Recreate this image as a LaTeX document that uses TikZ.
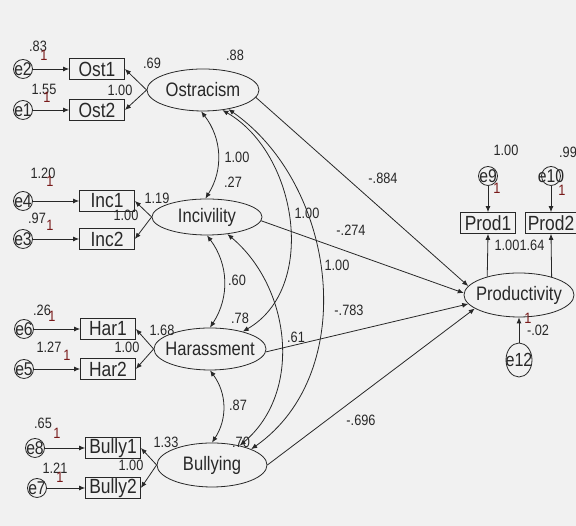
\documentclass[tikz,border=0pt]{standalone}
\usepackage{fontspec}
\setmainfont{Liberation Sans}[FakeStretch=0.85]
\usepackage{xcolor}
\usetikzlibrary{arrows.meta,shapes.geometric}
\definecolor{bgcol}{RGB}{241,241,241}
\definecolor{linecol}{RGB}{40,40,40}
\definecolor{fixcol}{RGB}{120,25,25}
\tikzset{
    every node/.style={font=\fontsize{15}{17}\selectfont, text=linecol},
    latent/.style={ellipse, draw=linecol, line width=0.8pt, minimum width=112pt, minimum height=42pt, inner sep=0pt,
        label={[font=\fontsize{19.5}{21}\selectfont]center:#1}},
    observed/.style={rectangle, draw=linecol, line width=0.8pt, minimum width=55pt, minimum height=21pt, inner sep=1pt,
        font=\fontsize{20.5}{22}\selectfont},
    errterm/.style={circle, draw=linecol, line width=0.8pt, minimum size=19pt, inner sep=0pt,
        label={[font=\fontsize{18.5}{20}\selectfont]center:#1}},
    est/.style={inner sep=0pt},
    fixed/.style={inner sep=0pt, text=fixcol}
}

\begin{document}
\begin{tikzpicture}[x=1pt,y=1pt,line width=0.8pt,color=linecol,>={Latex[length=6pt,width=5pt]}]
                % Background
                \fill[bgcol] (0,0) rectangle (576,526);
                \useasboundingbox (0,0) rectangle (576,526);

                % Draw latent variables
                \node[latent=Ostracism] (Ostracism) at (203,436) {};
                \node[latent=Incivility, minimum width=110pt, minimum height=36pt] (Incivility) at (207,309) {};
                \node[latent=Harassment] (Harassment) at (210,177) {};
                \node[latent=Bullying, minimum width=110pt, minimum height=44pt] (Bullying) at (212,61) {};
                \node[latent=Productivity, minimum width=110pt, minimum height=44pt] (Productivity) at (519,231) {};

                % Draw observed variables
                \foreach \n/\x/\y in {Ost1/97/457, Ost2/97/416, Inc1/107/325, Inc2/107/287,
                                      Har1/108/197, Har2/108/157, Bully1/113/78, Bully2/113/38, Prod1/488/303} {
                    \node[observed] (\n) at (\x,\y) {\n};
                }
                \node[observed, minimum width=51pt] (Prod2) at (551,303) {Prod2};

                % Draw error terms
                \foreach \n/\x/\y in {e2/23/457, e1/23/416, e4/23/325, e3/23/287, e6/24/197,
                                      e5/24/157, e8/35/78, e7/37/38, e9/488/350, e10/551/350} {
                    \node[errterm=\n] (\n) at (\x,\y) {};
                }
                \node[ellipse, draw=linecol, minimum width=26pt, minimum height=34pt, inner sep=0pt,
                      label={[font=\fontsize{19}{20}\selectfont]center:e12}] (e12) at (519,166) {};

                % Draw loadings and error paths
                \foreach \a/\b in {Ostracism/Ost1, Ostracism/Ost2, Incivility/Inc1, Incivility/Inc2,
                                   Harassment/Har1, Harassment/Har2, Bullying/Bully1, Bullying/Bully2} {
                    \draw[->] (\a.west) -- (\b.east);
                }
                \foreach \a/\b in {e2/Ost1, e1/Ost2, e4/Inc1, e3/Inc2, e6/Har1, e5/Har2,
                                   e8/Bully1, e7/Bully2, e9/Prod1, e10/Prod2, e12/Productivity} {
                    \draw[->] (\a) -- (\b);
                }
                \draw[->] (Productivity.150) -- (Prod1.south);
                \draw[->] (Productivity.29) -- (Prod2.south);

                % Draw structural paths
                \foreach \a/\b in {Ostracism.352/Productivity.170, Incivility.356/Productivity.178,
                                   Harassment.357/Productivity.190, Bullying.0/Productivity.197} {
                    \draw[->] (\a) -- (\b);
                }

                % Draw covariances
                \draw[<->] (Ostracism.265) to[bend left=35] (Incivility.95);
                \draw[<->] (Incivility.south) to[bend left=35] (Harassment.north);
                \draw[<->] (Harassment.south) to[bend left=35] (Bullying.north);
                \draw[<->] (Ostracism.314) to[out=-30,in=30] (Harassment.28);
                \draw[<->] (Ostracism.323) to[out=-35,in=35] (Bullying.22);
                \draw[<->] (Incivility.320) to[out=-40,in=40] (Bullying.35);

                % Estimates
                \foreach \x/\y/\t [count=\i] in {38/480/.83, 44/437/1.55, 152/463/.69, 120/436/1.00, 235/471/.88,
                        43/353/1.20, 37/308/.97, 157/328/1.19, 126/311/1.00, 237/369/1.00, 233/344/.27,
                        42/216/.26, 49/179/1.27, 162/196/1.68, 127/179/1.00, 237/246/.60, 240/208/.78,
                        43/103/.65, 55/58/1.21, 166/84/1.33, 131/61/1.00, 238/121/.87, 241/84/.70,
                        506/376/1.00, 568/374/.99, 383/348/-.884, 351/296/-.274, 307/313/1.00, 337/261/1.00,
                        349/216/-.783, 296/189/.61, 361/106/-.696, 507/281/1.00, 532/281/1.64, 538/196/-.02} {
                    \node[est] (est\i) at (\x,\y) {\t};
                }

                % Fixed weights
                \foreach \x/\y [count=\i] in {44/471, 47/429, 50/345, 50/301, 52/210, 67/171,
                                              57/93, 60/49, 497/338, 562/336, 528/208} {
                    \node[fixed] (one\i) at (\x,\y) {1};
                }
            \end{tikzpicture}
\end{document}
